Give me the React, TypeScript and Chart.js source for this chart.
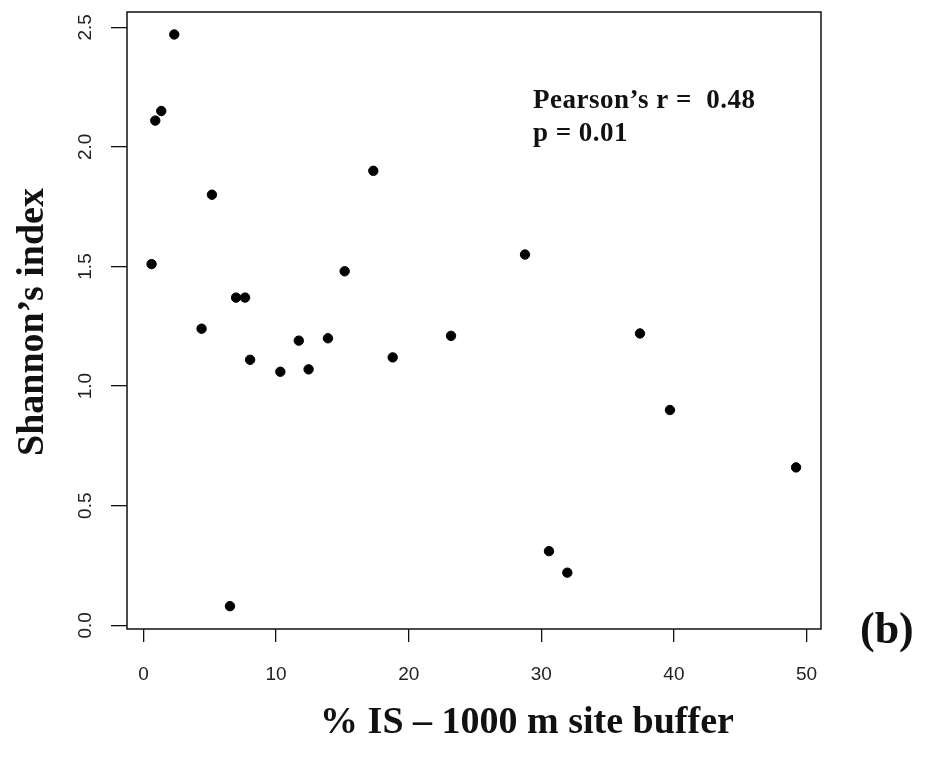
import React, { useEffect, useRef } from "react";
import { Chart, registerables } from "chart.js";

Chart.register(...registerables);

// % impervious surface in the 1000 m site buffer
const isPercent = [
  2.32, 1.34, 0.89, 5.16, 0.61, 6.98, 7.66, 4.38, 8.04, 10.32, 12.45, 11.71,
  13.91, 15.17, 6.52, 17.33, 28.77, 18.79, 23.19, 37.44, 39.7, 49.21, 30.58,
  31.96,
];
// Shannon's diversity index
const shannon = [
  2.47, 2.15, 2.11, 1.8, 1.51, 1.37, 1.37, 1.24, 1.11, 1.06, 1.07, 1.19, 1.2,
  1.48, 0.08, 1.9, 1.55, 1.12, 1.21, 1.22, 0.9, 0.66, 0.31, 0.22,
];

const xTickStep = 10;
const yTickStep = 0.5;
const xRange = [-1.244, 51.09];
const yRange = [-0.0155, 2.564];

const xTitle = "% IS \u2013 1000 m site buffer";
const yTitle = "Shannon\u2019s index";
const statLines = ["Pearson\u2019s r =  0.48", "p = 0.01"];
const statAnchor = { x: 29.37, y: 2.163 };
const panelLabel = "(b)";

const SERIF = "'Liberation Serif', 'Times New Roman', serif";
const SANS = "'Liberation Sans', Arial, sans-serif";

const decorPlugin = {
  id: "decor",
  afterDraw(chart: any) {
    const { ctx, chartArea, scales } = chart;
    const ys = scales.y;
    const xs = scales.x;
    ctx.save();
    // plot box
    ctx.strokeStyle = "#111";
    ctx.lineWidth = 1.5;
    ctx.strokeRect(
      chartArea.left,
      chartArea.top,
      chartArea.right - chartArea.left,
      chartArea.bottom - chartArea.top
    );
    // y tick labels (rotated, R style)
    ctx.fillStyle = "#222";
    ctx.font = `19px ${SANS}`;
    ctx.textAlign = "center";
    ctx.textBaseline = "middle";
    ys.ticks.forEach((t: any) => {
      const py = ys.getPixelForValue(t.value);
      ctx.save();
      ctx.translate(86, py);
      ctx.rotate(-Math.PI / 2);
      ctx.fillText(Number(t.value).toFixed(1), 0, 0);
      ctx.restore();
    });
    // y title
    ctx.fillStyle = "#111";
    ctx.font = `bold 38px ${SERIF}`;
    ctx.textBaseline = "alphabetic";
    ctx.save();
    ctx.translate(43, 322);
    ctx.rotate(-Math.PI / 2);
    ctx.fillText(yTitle, 0, 0);
    ctx.restore();
    // x title
    ctx.fillText(xTitle, 527, 733);
    // panel label
    ctx.font = `bold 44px ${SERIF}`;
    ctx.textAlign = "left";
    ctx.fillText(panelLabel, 860, 643);
    // stats annotation
    ctx.font = `bold 27px ${SERIF}`;
    try {
      (ctx as any).letterSpacing = "0.5px";
    } catch (e) {}
    const ax = xs.getPixelForValue(statAnchor.x);
    const ay = ys.getPixelForValue(statAnchor.y);
    statLines.forEach((s, i) => ctx.fillText(s, ax, ay + i * 33));
    (ctx as any).letterSpacing = "0px";
    ctx.restore();
  },
};

export default function App() {
  const ref = useRef<HTMLCanvasElement | null>(null);
  useEffect(() => {
    if (!ref.current) return;
    const chart = new Chart(ref.current, {
      type: "scatter",
      data: {
        datasets: [
          {
            data: isPercent.map((x, i) => ({ x, y: shannon[i] })),
            backgroundColor: "#000",
            borderColor: "#000",
            pointRadius: 4.7,
            borderWidth: 1,
          },
        ],
      },
      options: {
        animation: false,
        responsive: false,
        events: [],
        layout: { padding: { left: 0, right: 108, top: 12, bottom: 0 } },
        plugins: { legend: { display: false }, tooltip: { enabled: false } },
        scales: {
          x: {
            type: "linear",
            min: xRange[0],
            max: xRange[1],
            border: { display: false },
            grid: {
              drawOnChartArea: false,
              drawTicks: true,
              tickLength: 13,
              color: "#111",
              lineWidth: 1.3,
            },
            ticks: {
              stepSize: xTickStep,
              includeBounds: false,
              color: "#222",
              font: { family: SANS, size: 19 },
              padding: 21,
              maxRotation: 0,
            },
            afterFit: (s: any) => {
              s.height = 130;
            },
          },
          y: {
            type: "linear",
            min: yRange[0],
            max: yRange[1],
            border: { display: false },
            grid: {
              drawOnChartArea: false,
              drawTicks: true,
              tickLength: 16,
              color: "#111",
              lineWidth: 1.3,
            },
            ticks: {
              stepSize: yTickStep,
              includeBounds: false,
              display: false,
            },
            afterFit: (s: any) => {
              s.width = 127;
            },
          },
        },
      },
      plugins: [decorPlugin],
    });
    return () => chart.destroy();
  }, []);
  return (
    <div style={{ position: "absolute", left: 0, top: 0, width: 929, height: 759, background: "#fff" }}>
      <canvas ref={ref} width={929} height={759} style={{ display: "block" }} />
    </div>
  );
}
